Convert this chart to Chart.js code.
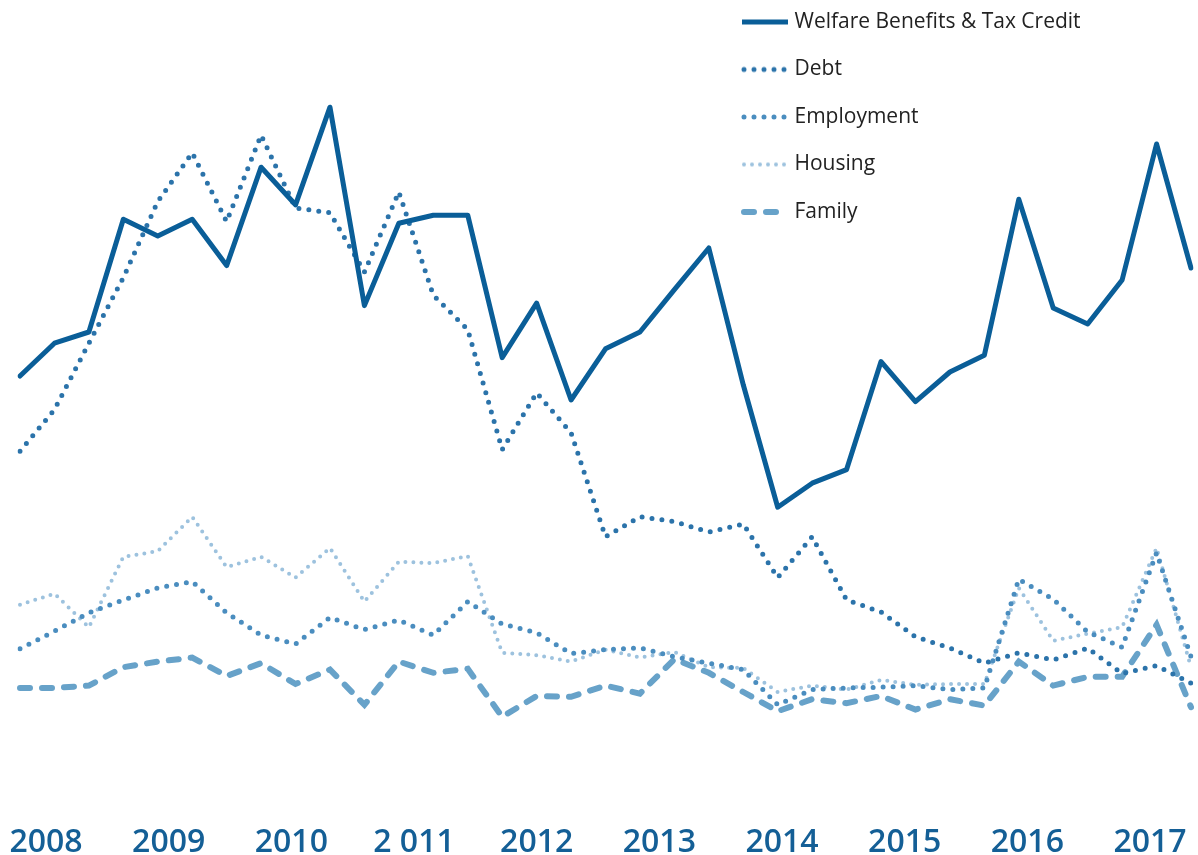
<!DOCTYPE html>
<html>
<head>
<meta charset="utf-8">
<script src="https://cdn.jsdelivr.net/npm/chart.js@4/dist/chart.umd.min.js"></script>
<style>
  html, body { margin: 0; padding: 0; background: #fff; }
  #wrap { position: relative; width: 1198px; height: 855px; }
</style>
</head>
<body>
<div id="wrap"><canvas id="chart_adviceTopics"></canvas></div>
<script>
// year labels along the bottom (the "2 011" spacing is as printed)
var yearTicks = [2008, 2009, 2010, 2011, 2012, 2013, 2014, 2015, 2016, 2017];
var yearLabels = ['2008', '2009', '2010', '2 011', '2012', '2013', '2014', '2015', '2016', '2017'];

// one value per period (relative units)
var welfare = [53, 57.1, 58.5, 72.6, 70.5, 72.6, 66.8, 79.1, 74.4, 86.6, 61.8, 72.1, 73.1, 73.1, 55.3, 62.1, 50, 56.4,
               58.5, 63.8, 69, 51.9, 36.6, 39.6, 41.3, 54.8, 49.8, 53.5, 55.6, 75.1, 61.5, 59.5, 65, 82, 66.5];
var debt = [43.6, 48.8, 57.1, 65.3, 74.8, 80.9, 72.3, 83.1, 74, 73.4, 66, 76, 63.1, 58.8, 43.8, 50.9, 45.9, 32.9,
            35.4, 34.8, 33.5, 34.5, 27.8, 32.9, 25, 23.5, 20.4, 19, 17.1, 18.4, 17.5, 19, 15.8, 16.8, 14.6];
var employment = [18.9, 21.1, 23.4, 25, 26.5, 27.3, 23.4, 20.6, 19.5, 22.8, 21.3, 22.5, 20.6, 24.8, 22, 20.9, 18.3, 18.8,
                  19, 17.9, 17.1, 16.3, 11.9, 13.8, 14, 14.1, 14.3, 13.8, 14, 27.6, 25.1, 21, 19.1, 30.9, 17.9];
var housing = [24.4, 25.8, 21.6, 30.4, 31.1, 35.4, 29.1, 30.4, 27.8, 31.5, 24.8, 29.8, 29.6, 30.5, 18.4, 18.1, 17.3, 18.8,
               17.8, 18.5, 16.6, 16.5, 13.5, 14.3, 13.8, 15, 14.4, 14.5, 14.5, 26.5, 19.9, 20.8, 21.6, 31.5, 16.6];
var family = [14, 14, 14.3, 16.6, 17.3, 17.8, 15.5, 17.1, 14.5, 16.3, 11.9, 17.3, 15.9, 16.4, 10.4, 13, 12.9, 14.3,
              13.3, 17.6, 15.9, 13.5, 11.1, 12.6, 12.1, 13, 11.3, 12.6, 11.8, 17.3, 14.3, 15.4, 15.4, 21.9, 11.6];

var periods = welfare.map(function (v, i) { return 'P' + (i + 1); });

// small line sample for the legend, so dotted / dashed styles show there too
function legendSample(color, width, dash) {
    var c = document.createElement('canvas');
    c.width = 58;
    c.height = 10;
    var ctx = c.getContext('2d');
    ctx.strokeStyle = color;
    ctx.lineWidth = width;
    ctx.lineCap = dash.length ? 'round' : 'butt';
    ctx.setLineDash(dash);
    ctx.beginPath();
    ctx.moveTo(dash.length ? 12 : 10, 5);
    ctx.lineTo(56, 5);
    ctx.stroke();
    return c;
}

// legend sits over the top right of the plot, as in the original
var legendPlacer = {
    id: 'legendPlacer',
    afterLayout: function (chart) {
        var lg = chart.legend;
        lg.left = 711.5;
        lg.right = 1198;
        lg.top = -15;
        lg.bottom = 400;
        lg.width = lg.right - lg.left;
        lg.height = lg.bottom - lg.top;
    }
};

var chart_adviceTopics = new Chart(document.getElementById('chart_adviceTopics'), {
    type: 'line',
    data: {
        labels: periods,
        datasets: [
            {
                label: 'Welfare Benefits & Tax Credit',
                data: welfare,
                borderColor: '#0a5e98',
                backgroundColor: '#0a5e98',
                borderWidth: 5,
                borderJoinStyle: 'round',
                borderCapStyle: 'round',
                pointStyle: legendSample('#0a5e98', 5, [])
            },
            {
                label: 'Debt',
                data: debt,
                borderColor: '#2b73aa',
                backgroundColor: '#2b73aa',
                borderWidth: 5,
                borderDash: [0, 10],
                borderCapStyle: 'round',
                pointStyle: legendSample('#2b73aa', 5, [0, 10])
            },
            {
                label: 'Employment',
                data: employment,
                borderColor: '#4a8dbf',
                backgroundColor: '#4a8dbf',
                borderWidth: 5,
                borderDash: [0, 10],
                borderCapStyle: 'round',
                pointStyle: legendSample('#4a8dbf', 5, [0, 10])
            },
            {
                label: 'Housing',
                data: housing,
                borderColor: '#9dc2de',
                backgroundColor: '#9dc2de',
                borderWidth: 4,
                borderDash: [0, 8],
                borderCapStyle: 'round',
                pointStyle: legendSample('#9dc2de', 4, [0, 8])
            },
            {
                label: 'Family',
                data: family,
                borderColor: '#67a2c9',
                backgroundColor: '#67a2c9',
                borderWidth: 6,
                borderDash: [10, 12],
                borderCapStyle: 'round',
                pointStyle: legendSample('#67a2c9', 6, [10, 12])
            }
        ]
    },
    options: {
        animation: false,
        responsive: true,
        maintainAspectRatio: false,
        events: [],
        layout: {
            padding: { left: 20, right: 7, top: 0, bottom: 0 }
        },
        elements: {
            point: { radius: 0 },
            line: { tension: 0 }
        },
        plugins: {
            tooltip: { enabled: false },
            legend: {
                display: true,
                position: 'chartArea',
                align: 'start',
                labels: {
                    usePointStyle: true,
                    pointStyleWidth: 46,
                    padding: 26.5,
                    color: '#222222',
                    textAlign: 'left',
                    font: { family: "'Open Sans', sans-serif", size: 21 }
                }
            }
        },
        scales: {
            x: {
                display: false
            },
            years: {
                type: 'linear',
                axis: 'x',
                position: 'bottom',
                min: 2007.788,
                max: 2017.334,
                afterBuildTicks: function (axis) {
                    axis.ticks = yearTicks.map(function (v) { return { value: v }; });
                },
                afterFit: function (axis) {
                    axis.height = 65;
                    axis.paddingLeft = 0;
                    axis.paddingRight = 0;
                },
                grid: { display: false, drawTicks: false },
                border: { display: false },
                ticks: {
                    autoSkip: false,
                    maxRotation: 0,
                    padding: 34,
                    color: '#145f96',
                    font: { family: "'Open Sans', sans-serif", size: 32, weight: '600' },
                    callback: function (value, index) {
                        return yearLabels[index];
                    }
                }
            },
            y: {
                display: false,
                min: 1.25,
                max: 100
            }
        }
    },
    plugins: [legendPlacer]
});
</script>
</body>
</html>
